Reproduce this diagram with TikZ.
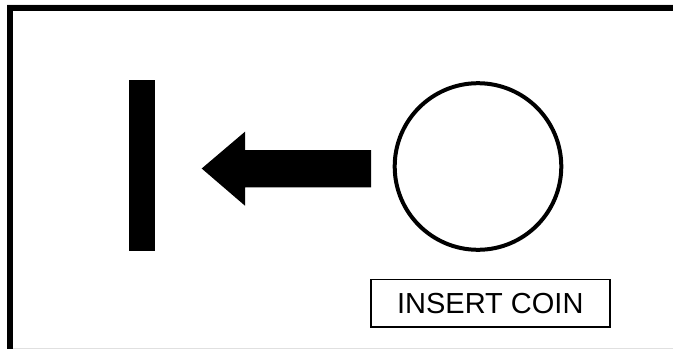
\documentclass[tikz,border=0pt]{standalone}
\usepackage{fontspec}
\setmainfont{Liberation Sans}
\begin{document}
\begin{tikzpicture}[x=1pt,y=-1pt,
  solid black/.style={fill=black,draw=none},
  coin/.style={circle,draw=black,line width=4pt,minimum size=166.6pt,inner sep=0pt},
  labelbox/.style={draw=black,line width=1.5pt,minimum width=239pt,minimum height=47.5pt,inner sep=0pt,font=\fontsize{29}{33}\selectfont}]
\useasboundingbox (0,0) rectangle (673,349);
\fill[white] (0,0) rectangle (673,349);
% frame
\fill[solid black] (7,5) rectangle (673,11);
\fill[solid black] (7,5) rectangle (13,349);
\draw[black!12,line width=1pt] (13,348.3) -- (673,348.3);
\draw[black!8,line width=1pt] (7,4.3) -- (673,4.3);
% bar
\fill[solid black] (129,80) rectangle (155,250.5);
% arrow
\fill[solid black] (201.7,168.5) -- (245,131.7) -- (245,150) -- (371,150) -- (371,187.3) -- (245,187.3) -- (245,205.7) -- cycle;
% coin
\node[coin] (coin) at (478,166.5) {};
% label
\node[labelbox] (label) at (490.3,303.3) {INSERT COIN};
\end{tikzpicture}
\end{document}
